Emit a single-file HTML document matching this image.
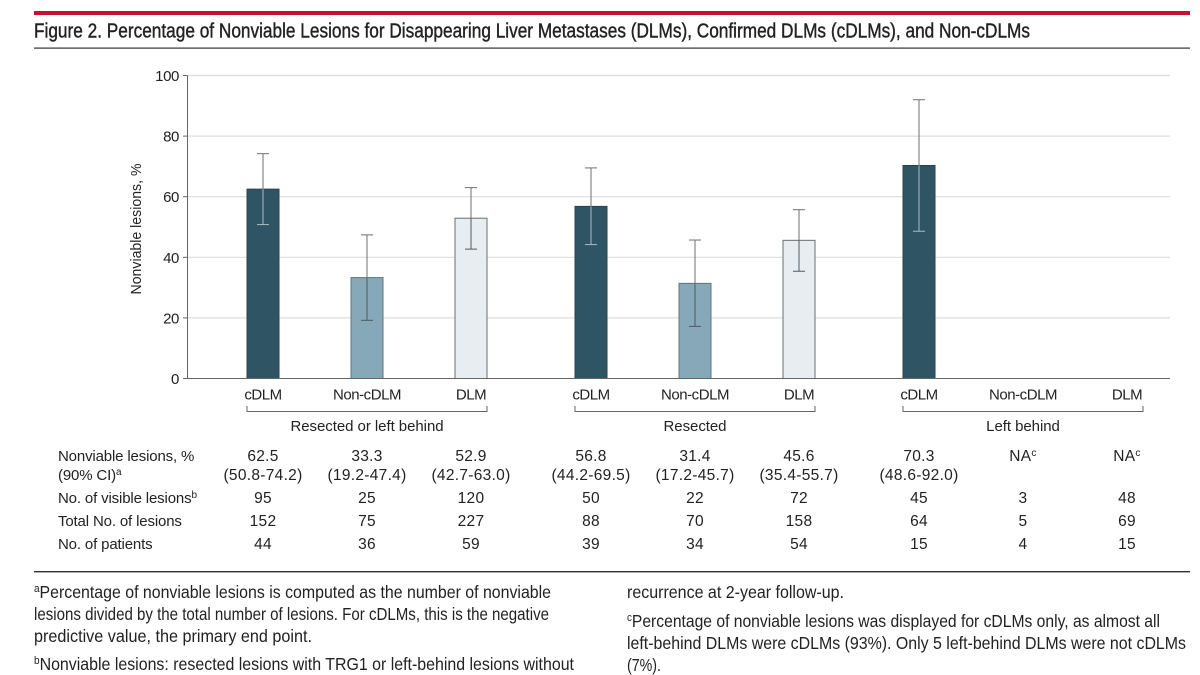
<!DOCTYPE html>
<html lang="en">
<head>
<meta charset="utf-8">
<title>Figure 2. Percentage of Nonviable Lesions</title>
<style>
html,body{margin:0;padding:0;background:#fff;}
svg{display:block;}
text{font-family:"Liberation Sans",sans-serif;fill:#222;}
</style>
</head>
<body>
<svg id="fig" width="1200" height="675" viewBox="0 0 1200 675" xmlns="http://www.w3.org/2000/svg">
  <rect x="34" y="11" width="1156" height="4" fill="#c8102e"/>
  <text x="34" y="37.5" font-size="20" stroke="#222" stroke-width="0.4" textLength="996" lengthAdjust="spacingAndGlyphs">Figure 2. Percentage of Nonviable Lesions for Disappearing Liver Metastases (DLMs), Confirmed DLMs (cDLMs), and Non-cDLMs</text>
  <rect x="34" y="47.5" width="1156" height="1.2" fill="#333"/>
  <g id="chart"></g>
  <g id="table"></g>
  <rect x="34" y="571" width="1156" height="1.4" fill="#333"/>
  <g font-size="17.5">
    <text x="34" y="598" textLength="517" lengthAdjust="spacingAndGlyphs"><tspan font-size="11" dy="-6">a</tspan><tspan dy="6">Percentage of nonviable lesions is computed as the number of nonviable</tspan></text>
    <text x="34" y="620" textLength="515" lengthAdjust="spacingAndGlyphs">lesions divided by the total number of lesions. For cDLMs, this is the negative</text>
    <text x="34" y="642" textLength="278" lengthAdjust="spacingAndGlyphs">predictive value, the primary end point.</text>
    <text x="34" y="670" textLength="540" lengthAdjust="spacingAndGlyphs"><tspan font-size="11" dy="-6">b</tspan><tspan dy="6">Nonviable lesions: resected lesions with TRG1 or left-behind lesions without</tspan></text>
    <text x="627" y="598" textLength="217" lengthAdjust="spacingAndGlyphs">recurrence at 2-year follow-up.</text>
    <text x="627" y="627" textLength="533" lengthAdjust="spacingAndGlyphs"><tspan font-size="11" dy="-6">c</tspan><tspan dy="6">Percentage of nonviable lesions was displayed for cDLMs only, as almost all</tspan></text>
    <text x="627" y="649" textLength="559" lengthAdjust="spacingAndGlyphs">left-behind DLMs were cDLMs (93%). Only 5 left-behind DLMs were not cDLMs</text>
    <text x="627" y="671" textLength="34" lengthAdjust="spacingAndGlyphs">(7%).</text>
  </g>
</svg>
<script>
var groups = ["Resected or left behind", "Resected", "Left behind"];
var categories = ["cDLM", "Non-cDLM", "DLM"];
var yTicks = [0, 20, 40, 60, 80, 100];
var percentValues = [62.5, 33.3, 52.9, 56.8, 31.4, 45.6, 70.3, null, null];
var ciLow = [50.8, 19.2, 42.7, 44.2, 17.2, 35.4, 48.6, null, null];
var ciHigh = [74.2, 47.4, 63.0, 69.5, 45.7, 55.7, 92.0, null, null];
var visibleLesions = [95, 25, 120, 50, 22, 72, 45, 3, 48];
var totalLesions = [152, 75, 227, 88, 70, 158, 64, 5, 69];
var patientCounts = [44, 36, 59, 39, 34, 54, 15, 4, 15];

var NS = "http://www.w3.org/2000/svg";
var chart = document.getElementById("chart");
var table = document.getElementById("table");
var Y0 = 378.5, Y100 = 75.5, BAR_W = 32;
var FILLS = ["#2f5564", "#87a8b8", "#e8edf2"];
var EDGES = ["#2a4350", "#5f7580", "#6a6f73"];

function y(v) { return Y0 + (Y100 - Y0) * v / 100; }
function x(i) {
  var g = Math.floor(i / 3), c = i % 3;
  return 263 + g * 328 + c * 104;
}
function mk(parent, tag, props, content) {
  var el = document.createElementNS(NS, tag);
  for (var k in props) el.setAttribute(k, props[k]);
  if (content !== undefined) el.textContent = content;
  parent.appendChild(el);
  return el;
}
function hline(x1, x2, yy, color, w) {
  return mk(chart, "line", {x1: x1, x2: x2, y1: yy, y2: yy, stroke: color, "stroke-width": w});
}
function vline(xx, y1, y2, color, w) {
  return mk(chart, "line", {x1: xx, x2: xx, y1: y1, y2: y2, stroke: color, "stroke-width": w});
}

var el;

// gridlines and y ticks
yTicks.forEach(function (t) {
  var yy = y(t);
  if (t > 0) {
    var grid = hline(187.5, 1170, yy, "#dddddd", 1.2);
    
    
  }
  var tick = hline(183, 187.5, yy, "#666", 1);
  
  
  var lab = mk(chart, "text", {x: 179, y: yy + 5.5, "text-anchor": "end", "font-size": 15, "letter-spacing": -0.4}, String(t));
  
  
});

// y axis
el = vline(187.5, Y100, Y0, "#666", 1);



el = mk(chart, "text", {transform: "translate(141,229) rotate(-90)", "text-anchor": "middle", "font-size": 15, textLength: 131, lengthAdjust: "spacingAndGlyphs"}, "Nonviable lesions, %");



// bars and error bars
percentValues.forEach(function (v, idx) {
  if (v === null) return;
  var c = idx % 3, cx = x(idx), top = y(v);
  var bar = mk(chart, "rect", {x: cx - BAR_W / 2, y: top, width: BAR_W, height: Y0 - top, fill: FILLS[c], stroke: EDGES[c], "stroke-width": 1});
  
  

  var hi = y(ciHigh[idx]), lo = y(ciLow[idx]);
  var inside = c === 0 ? "#a9bcc6" : "#4d5a61";
  var upper = vline(cx, hi, top, "#6d6f71", 1);
  
  
  var lower = vline(cx, top, lo, inside, 1);
  
  
  var capHi = hline(cx - 6, cx + 6, hi, "#6d6f71", 1);
  
  
  var capLo = hline(cx - 6, cx + 6, lo, inside, 1);
  
  
});

// x axis
el = hline(183, 1170, Y0, "#666", 1);



// category labels
percentValues.forEach(function (v, idx) {
  var lab = mk(chart, "text", {x: x(idx), y: 399.5, "text-anchor": "middle", "font-size": 15, "letter-spacing": -0.45}, categories[idx % 3]);
  
  
});

// group brackets and labels
groups.forEach(function (g, gi) {
  var a = x(gi * 3) - 16, b = x(gi * 3 + 2) + 16;
  var br = mk(chart, "path", {d: "M" + a + " 406V411.5H" + b + "V406", fill: "none", stroke: "#666", "stroke-width": 1});
  
  
  var lab = mk(chart, "text", {x: (a + b) / 2, y: 431, "text-anchor": "middle", "font-size": 15, "letter-spacing": -0.05}, g);
  
  
});

// table row labels
function rowLabel(txt, yy, sup) {
  var t = mk(table, "text", {x: 58, y: yy, "font-size": 15, "letter-spacing": -0.15}, txt);
  
  
  if (sup) {
    var s = mk(t, "tspan", {"font-size": 10, dy: -5}, sup);
  }
  return t;
}
rowLabel("Nonviable lesions, %", 461);
rowLabel("(90% CI)", 480, "a");
rowLabel("No. of visible lesions", 503, "b");
rowLabel("Total No. of lesions", 526);
rowLabel("No. of patients", 549);

// table cells
function cell(txt, idx, yy, sup) {
  var t = mk(table, "text", {x: x(idx), y: yy, "text-anchor": "middle", "font-size": 15.5, "letter-spacing": 0.3}, txt);
  
  
  if (sup) {
    var s = mk(t, "tspan", {"font-size": 10, dy: -5}, sup);
  }
  return t;
}
percentValues.forEach(function (v, idx) {
  if (v === null) {
    cell("NA", idx, 461, "c");
  } else {
    cell(v.toFixed(1), idx, 461);
    cell("(" + ciLow[idx].toFixed(1) + "-" + ciHigh[idx].toFixed(1) + ")", idx, 480);
  }
  cell(String(visibleLesions[idx]), idx, 503);
  cell(String(totalLesions[idx]), idx, 526);
  cell(String(patientCounts[idx]), idx, 549);
});
</script>
</body>
</html>
